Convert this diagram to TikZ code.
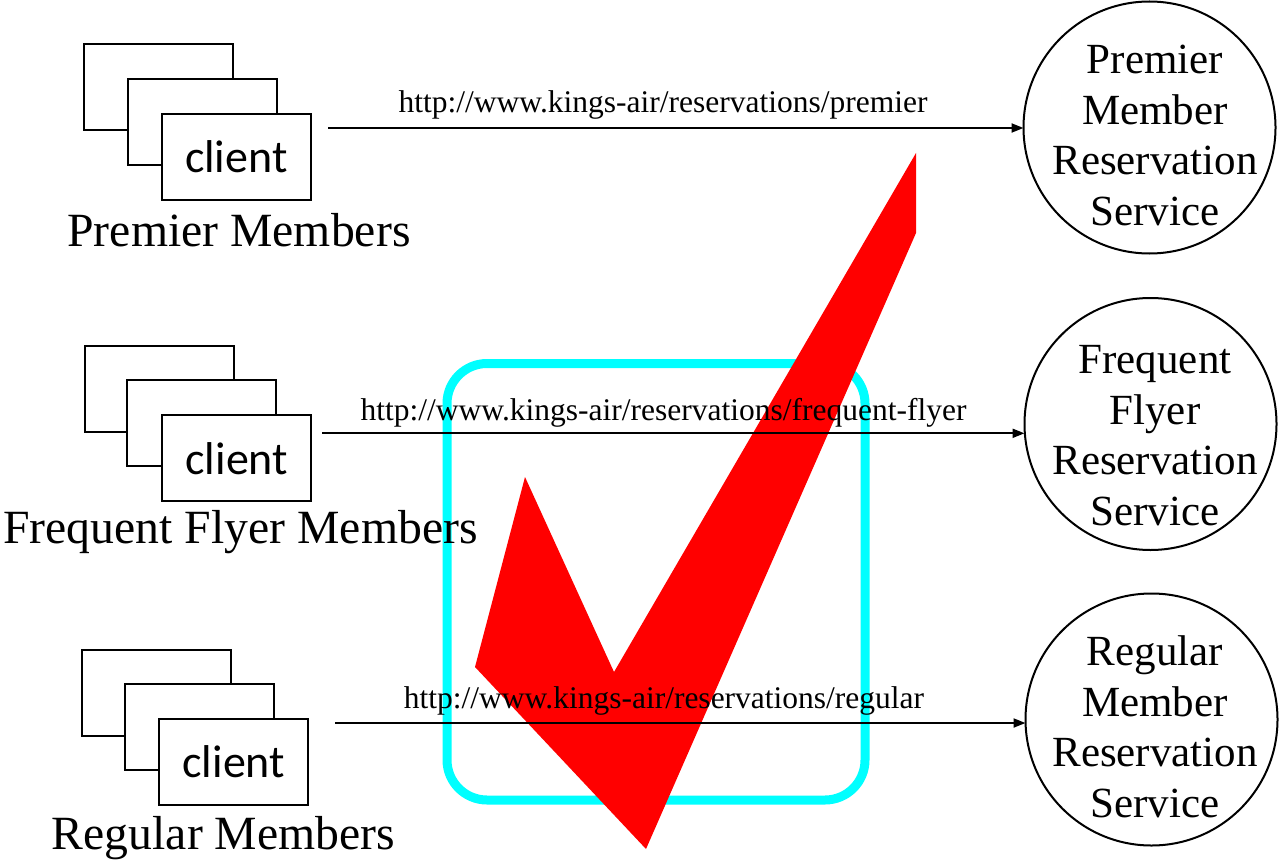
\documentclass[tikz,border=0pt]{standalone}
\usepackage{fontspec}
\setmainfont{Liberation Serif}
\newfontfamily\clientfont{Carlito}
\usetikzlibrary{arrows.meta}
\definecolor{aqua}{RGB}{0,255,255}
\definecolor{checkred}{RGB}{255,0,0}
\begin{document}
\begin{tikzpicture}[x=1pt,y=-1pt,
  win/.style={draw, line width=2pt, fill=white, minimum width=149pt, minimum height=86pt, inner sep=0pt, outer sep=0pt},
  front/.style={win, font=\clientfont\fontsize{46}{55}\selectfont},
  who/.style={font=\fontsize{47.7}{56}\selectfont, anchor=base, inner sep=0pt},
  url/.style={font=\fontsize{31.5}{38}\selectfont, anchor=base, inner sep=0pt},
  svc/.style={draw, circle, line width=2pt, minimum size=252pt, inner sep=0pt, outer sep=0pt},
  svctext/.style={align=center, font=\fontsize{43}{50.5}\selectfont, anchor=north, inner sep=0pt},
  link/.style={line width=2pt, -{Triangle[length=12pt,width=9pt]}}
]
\useasboundingbox (0,0) rectangle (1281,861);

% cyan box and red check (background)
\draw[aqua, line width=9pt, rounded corners=40pt] (447,363.5) rectangle (865,800);
\fill[checkred] (916,153) -- (916,233) -- (646,849) -- (475,667) -- (525,477) -- (614,672) -- cycle;

% Premier group
\node[win] (p1) at (158.8,87.2) {};
\node[win] (p2) at (202.2,121.8) {};
\node[front] (p3) at (236.3,156.8) {client};
\node[who] (pl) at (239,246) {Premier Members};

% Frequent flyer group
\node[win] (f1) at (159.2,388.5) {};
\node[win] (f2) at (201.7,423.3) {};
\node[front] (f3) at (236.8,458.2) {client};
\node[who] (fl) at (240.5,543.3) {Frequent Flyer Members};

% Regular group
\node[win] (r1) at (156.7,692.8) {};
\node[win] (r2) at (199.2,727.2) {};
\node[front] (r3) at (233.8,761.7) {client};
\node[who] (rl) at (223.5,849) {Regular Members};

% services
\node[svc] (c1) at (1149.5,127.5) {};
\node[svctext] (t1) at (1155,45) {Premier\\Member\\Reservation\\Service};
\node[svc] (c2) at (1150.5,424) {};
\node[svctext] (t2) at (1155,345.5) {Frequent\\Flyer\\Reservation\\Service};
\node[svc] (c3) at (1151.5,719.5) {};
\node[svctext] (t3) at (1155,635.6) {Regular\\Member\\Reservation\\Service};

% connectors
\coordinate (s1) at (328,128);
\coordinate (s2) at (322,433.3);
\coordinate (s3) at (335,723);
\draw[link] (s1) -- (s1 -| c1.west);
\draw[link] (s2) -- (s2 -| c2.west);
\draw[link] (s3) -- (s3 -| c3.west);

\node[url] (u1) at (663,113) {http://www.kings-air/reservations/premier};
\node[url] (u2) at (663.5,420) {http://www.kings-air/reservations/frequent-flyer};
\node[url] (u3) at (664,708.3) {http://www.kings-air/reservations/regular};
\end{tikzpicture}
\end{document}
